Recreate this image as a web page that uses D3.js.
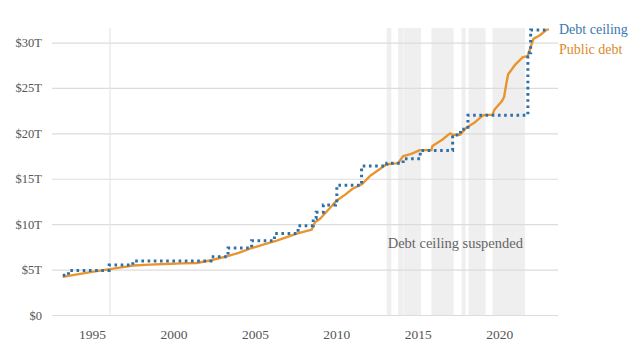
<!DOCTYPE html>
<html>
<head>
<meta charset="utf-8">
<script src="https://cdn.jsdelivr.net/npm/d3@7"></script>
<style>
  html, body { margin: 0; padding: 0; background: #fff; }
  svg { display: block; }
  text { font-family: "Liberation Serif", "Times New Roman", "DejaVu Serif", serif; }
</style>
</head>
<body>
<svg id="chart" width="639" height="355"></svg>
<script>
// ---- data (decimal years, trillions of dollars) ----
const yearTicks = [1995, 2000, 2005, 2010, 2015, 2020];
const valueTicks = [0, 5, 10, 15, 20, 25, 30];
const valueTickLabels = ["$0", "$5T", "$10T", "$15T", "$20T", "$25T", "$30T"];

// Debt ceiling steps: [year the limit takes effect, limit]
const ceilingYears = [1993.2, 1993.55, 1996.05, 1997.5, 2002.3, 2003.35, 2004.8, 2006.2, 2007.65, 2008.58, 2008.76, 2009.2, 2009.95, 2010.03, 2011.55, 2013.1, 2014.1, 2015.15, 2017.14, 2017.62, 2018.08, 2021.76, 2021.85, 2021.93];
const ceilingValues = [4.37, 4.9, 5.5, 5.95, 6.4, 7.384, 8.184, 8.965, 9.815, 10.615, 11.315, 12.104, 12.394, 14.294, 16.394, 16.699, 17.212, 18.113, 19.809, 20.456, 21.988, 28.401, 28.881, 31.381];
const ceilingEnd = 2023.05;

// Public debt outstanding
const debtYears = [1993.2, 1994.0, 1995.0, 1996.1, 1997.0, 1997.54, 1998.56, 1999.5, 2000.5, 2001.43, 2002.24, 2003.27, 2004.0, 2004.7, 2005.5, 2006.34, 2007.0, 2007.57, 2008.49, 2008.69, 2009.0, 2009.41, 2010.02, 2010.5, 2011.0, 2011.45, 2011.57, 2012.06, 2012.5, 2013.09, 2013.66, 2013.8, 2014.11, 2014.6, 2015.13, 2015.84, 2015.9, 2016.5, 2016.98, 2017.14, 2017.6, 2018.0, 2018.5, 2019.02, 2019.2, 2019.6, 2019.7, 2020.15, 2020.3, 2020.45, 2020.55, 2021.0, 2021.45, 2021.75, 2021.95, 2022.1, 2022.5, 2022.9, 2023.05];
const debtValues = [4.2, 4.45, 4.75, 5.05, 5.3, 5.45, 5.55, 5.62, 5.68, 5.72, 6.0, 6.45, 6.85, 7.3, 7.75, 8.2, 8.6, 8.95, 9.4, 10.2, 10.6, 11.4, 12.6, 13.2, 13.9, 14.3, 14.4, 15.3, 15.85, 16.6, 16.7, 16.75, 17.5, 17.75, 18.15, 18.15, 18.6, 19.3, 20.0, 19.85, 19.85, 20.65, 21.2, 22.0, 22.03, 22.05, 22.6, 23.5, 24.0, 25.6, 26.5, 27.6, 28.4, 28.5, 29.6, 30.4, 30.8, 31.4, 31.45];

// Debt ceiling suspensions [start, end]
const suspensionStarts = [2013.09, 2013.79, 2014.12, 2015.84, 2017.69, 2018.11, 2019.59];
const suspensionEnds   = [2013.38, 2014.10, 2015.20, 2017.20, 2017.94, 2019.16, 2021.58];

const markerYear = 1996.1;

// ---- chart ----
const svg = d3.select("#chart");
const mLeft = 52, mRight = 558, mTop = 28, mBottom = 315;
const serif = "'Liberation Serif', 'Times New Roman', serif";

const x = d3.scaleLinear().domain([1992.54, 2023.61]).range([mLeft, mRight]);
const y = d3.scaleLinear().domain([0, 31.6]).range([mBottom, mTop]);

// shaded suspensions
svg.append("g").selectAll("rect")
  .data(d3.range(suspensionStarts.length))
  .join("rect")
  .attr("x", i => x(suspensionStarts[i]))
  .attr("width", i => x(suspensionEnds[i]) - x(suspensionStarts[i]))
  .attr("y", mTop)
  .attr("height", mBottom - mTop)
  .attr("fill", "#efefef");

// horizontal gridlines + y labels
const yAxis = d3.axisLeft(y)
  .tickValues(valueTicks)
  .tickFormat((d, i) => valueTickLabels[i])
  .tickSize(-(mRight - mLeft))
  .tickPadding(10);
const gy = svg.append("g").attr("transform", `translate(${mLeft},0)`).call(yAxis);
gy.select(".domain").remove();
gy.selectAll(".tick line").attr("stroke", "#dcdcdc").attr("stroke-width", 1.2);
gy.selectAll(".tick text").attr("fill", "#555").style("font-size", "12.5px")
  .style("font-family", serif);

// single vertical reference line
svg.append("line")
  .attr("x1", x(markerYear)).attr("x2", x(markerYear))
  .attr("y1", mTop).attr("y2", mBottom)
  .attr("stroke", "#e6e6e6").attr("stroke-width", 1.2);

// x axis labels
const xAxis = d3.axisBottom(x).tickValues(yearTicks).tickFormat(d3.format("d")).tickSize(0).tickPadding(14);
const gx = svg.append("g").attr("transform", `translate(0,${mBottom})`).call(xAxis);
gx.select(".domain").remove();
gx.selectAll(".tick text").attr("fill", "#555").style("font-size", "13.5px")
  .style("font-family", serif);

// annotation
svg.append("text")
  .attr("x", x(2013.09) + 1).attr("y", 248)
  .attr("fill", "#666").style("font-size", "14.5px").style("font-family", serif)
  .text("Debt ceiling suspended");

// public debt line
const debtData = debtYears.map((d, i) => [d, debtValues[i]]);
svg.append("path")
  .datum(debtData)
  .attr("fill", "none")
  .attr("stroke", "#e8952f")
  .attr("stroke-width", 2.4)
  .attr("stroke-linejoin", "round")
  .attr("d", d3.line().x(d => x(d[0])).y(d => y(d[1])));

// debt ceiling step line
const ceilData = ceilingYears.map((d, i) => [d, ceilingValues[i]]);
ceilData.push([ceilingEnd, ceilingValues[ceilingValues.length - 1]]);
svg.append("path")
  .datum(ceilData)
  .attr("fill", "none")
  .attr("stroke", "#2f6fa8")
  .attr("stroke-width", 3)
  .attr("stroke-dasharray", "2.6,3.6")
  .attr("d", d3.line().curve(d3.curveStepAfter).x(d => x(d[0])).y(d => y(d[1])));

// labels
svg.append("text").attr("x", 559).attr("y", 34)
  .attr("fill", "#3a78b0").style("font-size", "14px").style("font-family", serif).text("Debt ceiling");
svg.append("text").attr("x", 559).attr("y", 54)
  .attr("fill", "#d98a2a").style("font-size", "14px").style("font-family", serif).text("Public debt");
</script>
</body>
</html>
